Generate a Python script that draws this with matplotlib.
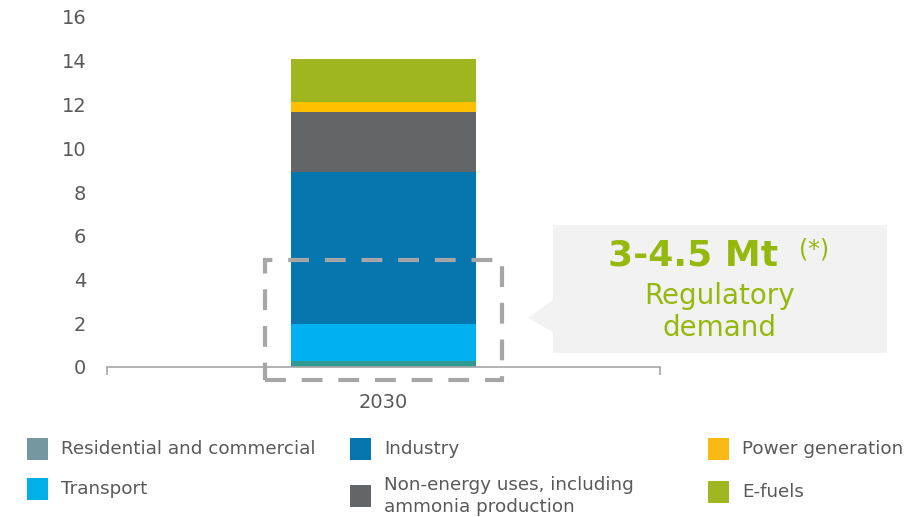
import matplotlib.pyplot as plt
from matplotlib.patches import Rectangle, Polygon

# data (Mt, 2030)
year = "2030"
sectors = ["Residential and commercial", "Transport", "Industry",
           "Non-energy uses, including\nammonia production",
           "Power generation", "E-fuels"]
values = [0.27, 1.7, 6.95, 2.72, 0.46, 1.96]
bar_colors = ["#2f9a91", "#00b0f0", "#0677ae", "#636669", "#ffc000", "#9fb620"]
legend_colors = ["#7497a0", "#00b0e6", "#0677ae", "#636669", "#fdb913", "#a0b721"]
yticks = [0, 2, 4, 6, 8, 10, 12, 14, 16]
regulatory_low, regulatory_high = 3, 4.5

W, H = 907, 517
GREEN = "#94b80c"
GREY_TXT = "#595959"


def fx(x):
    return x / W


def fy(y):
    return 1 - y / H


fig = plt.figure(figsize=(W / 100, H / 100), dpi=100)

# callout box on the right (drawn first, behind everything)
callout = Polygon([(fx(553), fy(225)), (fx(887), fy(225)), (fx(887), fy(353)),
                   (fx(553), fy(353)), (fx(553), fy(332)), (fx(528), fy(318)),
                   (fx(553), fy(300))],
                  closed=True, transform=fig.transFigure, facecolor="#f2f2f2",
                  edgecolor="none", zorder=0)
fig.patches.append(callout)

ax = fig.add_axes([fx(107), fy(367), (660 - 107) / W, (367 - 17) / H])
ax.set_xlim(-0.5, 0.5)
ax.set_ylim(0, 16)

bottom = 0
for v, c in zip(values, bar_colors):
    ax.bar(0, v, width=0.333, bottom=bottom, color=c, zorder=2)
    bottom += v

# dashed frame marking the regulatory demand zone
frame = Rectangle((-0.214, -0.6), 0.428, 5.49, fill=False, edgecolor="#a6a6a6",
                  lw=3, linestyle=(0, (5, 3.8)), clip_on=False, zorder=3)
ax.add_patch(frame)

for s in ["top", "right", "left"]:
    ax.spines[s].set_visible(False)
ax.spines["bottom"].set_color("#a6a6a6")
ax.spines["bottom"].set_linewidth(1.2)
ax.spines["bottom"].set_zorder(4)

ax.set_yticks(yticks)
ax.tick_params(axis="y", length=0, pad=15, labelsize=14, labelcolor=GREY_TXT)
ax.set_xticks([0])
ax.set_xticklabels([year])
ax.tick_params(axis="x", length=0, pad=19, labelsize=14, labelcolor=GREY_TXT)
ax.set_xticks([-0.5, 0.5], minor=True)
ax.tick_params(axis="x", which="minor", length=6, width=1.2, color="#a6a6a6")

# callout text
fig.text(fx(693), fy(256), f"{regulatory_low}-{regulatory_high} Mt", color=GREEN,
         fontsize=26, fontweight="bold", ha="center", va="center")
fig.text(fx(814), fy(249), "(*)", color=GREEN, fontsize=17, ha="center", va="center")
fig.text(fx(720), fy(296), "Regulatory", color=GREEN, fontsize=20, ha="center", va="center")
fig.text(fx(720), fy(328), "demand", color=GREEN, fontsize=20, ha="center", va="center")

# legend, laid out by hand like the original
legend_pos = [(27, 449), (27, 489), (350, 449), (350, 496), (708, 449), (708, 492)]
for label, c, (lx, ly) in zip(sectors, legend_colors, legend_pos):
    fig.patches.append(Rectangle((fx(lx), fy(ly + 11)), 21 / W, 22 / H,
                                 transform=fig.transFigure, facecolor=c,
                                 edgecolor="none"))
    fig.text(fx(lx + 34), fy(ly), label, color=GREY_TXT, fontsize=13.2,
             ha="left", va="center", linespacing=1.25)

fig.savefig("out.png", dpi=100)
